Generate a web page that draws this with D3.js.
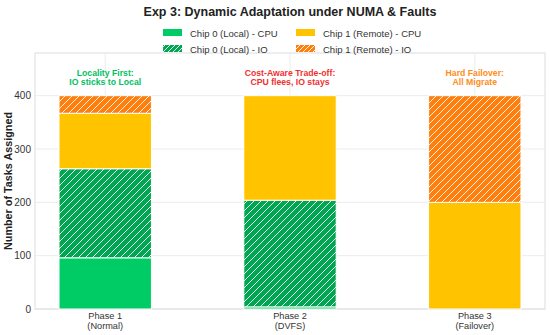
<html>
<head>
<script src="https://d3js.org/d3.v7.min.js"></script>
<style>
body { margin: 0; background: white; font-family: "Liberation Sans", Arial, sans-serif; }
</style>
</head>
<body>
<script>
// data
var phases = ["Phase 1", "Phase 2", "Phase 3"];
var phaseSub = ["(Normal)", "(DVFS)", "(Failover)"];
var chip0Cpu = [96, 4, 0];
var chip0Io = [167, 200, 0];
var chip1Cpu = [104, 196, 200];
var chip1Io = [33, 0, 200];
var seriesNames = ["Chip 0 (Local) - CPU", "Chip 0 (Local) - IO", "Chip 1 (Remote) - CPU", "Chip 1 (Remote) - IO"];
var notes = [["Locality First:", "IO sticks to Local"], ["Cost-Aware Trade-off:", "CPU flees, IO stays"], ["Hard Failover:", "All Migrate"]];
var noteColors = ["#00c060", "#f03030", "#ff8c1a"];
var yTicks = [0, 100, 200, 300, 400];

var width = 550, height = 335;
var pLeft = 35, pRight = 545, pTop = 53, pBottom = 309;

var colors = ["#00cc66", "#00a651", "#ffc300", "#ff7f0e"];
var hatched = [false, true, false, true];

var rows = phases.map(function(p, i) {
  return { phase: p, c0cpu: chip0Cpu[i], c0io: chip0Io[i], c1cpu: chip1Cpu[i], c1io: chip1Io[i] };
});
var keys = ["c0cpu", "c0io", "c1cpu", "c1io"];
var stacked = d3.stack().keys(keys)(rows);

var svg = d3.select("body").append("svg").attr("width", width).attr("height", height);

// hatch patterns
var defs = svg.append("defs");
function makePattern(id, color, size) {
  var p = defs.append("pattern").attr("id", id).attr("patternUnits", "userSpaceOnUse")
    .attr("width", size).attr("height", size);
  p.append("rect").attr("width", size).attr("height", size).attr("fill", color);
  p.append("path")
    .attr("d", "M0," + size + " L" + size + ",0 M-1,1 L1,-1 M" + (size - 1) + "," + (size + 1) + " L" + (size + 1) + "," + (size - 1))
    .attr("stroke", "white").attr("stroke-width", 0.9);
}
colors.forEach(function(c, i) {
  if (hatched[i]) { makePattern("h" + i, c, 7); makePattern("lh" + i, c, 5); }
});

var x = d3.scalePoint().domain(phases).range([pLeft, pRight]).padding(0.38);
var bw = x.step() * 0.5;
var y = d3.scaleLinear().domain([0, 480]).range([pBottom, pTop]);

// grid
var g = svg.append("g");
g.selectAll(".hg").data(yTicks).enter().append("line")
  .attr("x1", pLeft).attr("x2", pRight).attr("y1", function(d) { return y(d); }).attr("y2", function(d) { return y(d); })
  .attr("stroke", "#ececec").attr("stroke-width", 1);
g.selectAll(".vg").data(phases).enter().append("line")
  .attr("x1", function(d) { return x(d); }).attr("x2", function(d) { return x(d); })
  .attr("y1", pTop).attr("y2", pBottom)
  .attr("stroke", "#ececec").attr("stroke-width", 1);

// frame
svg.append("rect").attr("x", pLeft).attr("y", pTop).attr("width", pRight - pLeft).attr("height", pBottom - pTop)
  .attr("fill", "none").attr("stroke", "#dddddd").attr("stroke-width", 1);

// bars
stacked.forEach(function(s, i) {
  svg.append("g").selectAll("rect").data(s).enter().append("rect")
    .attr("x", function(d) { return x(d.data.phase) - bw / 2; })
    .attr("width", bw)
    .attr("y", function(d) { return y(d[1]); })
    .attr("height", function(d) { return y(d[0]) - y(d[1]); })
    .attr("fill", hatched[i] ? "url(#h" + i + ")" : colors[i])
    .attr("stroke", "white").attr("stroke-width", function(d) { return d[1] > d[0] ? 1 : 0; });
});

// y axis
var yAxis = svg.append("g").attr("transform", "translate(" + pLeft + ",0)")
  .call(d3.axisLeft(y).tickValues(yTicks).tickSize(0).tickPadding(4));
yAxis.select(".domain").remove();
yAxis.selectAll("text").attr("font-size", 10).attr("fill", "#333").attr("font-family", "Liberation Sans, Arial, sans-serif");

// x axis labels
var xl = svg.append("g");
phases.forEach(function(p, i) {
  var t = xl.append("text").attr("text-anchor", "middle").attr("font-size", 9.2).attr("fill", "#333");
  t.append("tspan").attr("x", x(p)).attr("y", 318.5).text(p);
  t.append("tspan").attr("x", x(p)).attr("y", 328.5).text(phaseSub[i]);
});

// axis title
svg.append("text").attr("transform", "translate(12," + ((pTop + pBottom) / 2) + ") rotate(-90)")
  .attr("text-anchor", "middle").attr("font-size", 10.8).attr("font-weight", "bold").attr("fill", "#222")
  .text("Number of Tasks Assigned");

// annotations
phases.forEach(function(p, i) {
  var t = svg.append("text").attr("text-anchor", "middle").attr("font-size", 8.7).attr("font-weight", "bold").attr("fill", noteColors[i]);
  t.append("tspan").attr("x", x(p)).attr("y", 76).text(notes[i][0]);
  t.append("tspan").attr("x", x(p)).attr("y", 85).text(notes[i][1]);
});

// title
svg.append("text").attr("x", (pLeft + pRight) / 2).attr("y", 16).attr("text-anchor", "middle")
  .attr("font-size", 12.5).attr("font-weight", "bold").attr("fill", "#222")
  .text("Exp 3: Dynamic Adaptation under NUMA & Faults");

// legend
var legX = [163, 296], legY = [33, 49];
seriesNames.forEach(function(name, i) {
  var col = Math.floor(i / 2), row = i % 2;
  svg.append("rect").attr("x", legX[col]).attr("y", legY[row] - 4).attr("width", 19).attr("height", 7)
    .attr("fill", hatched[i] ? "url(#lh" + i + ")" : colors[i]);
  svg.append("text").attr("x", legX[col] + 27).attr("y", legY[row] + 3.5).attr("font-size", 9.5).attr("fill", "#333").text(name);
});
</script>
</body>
</html>
